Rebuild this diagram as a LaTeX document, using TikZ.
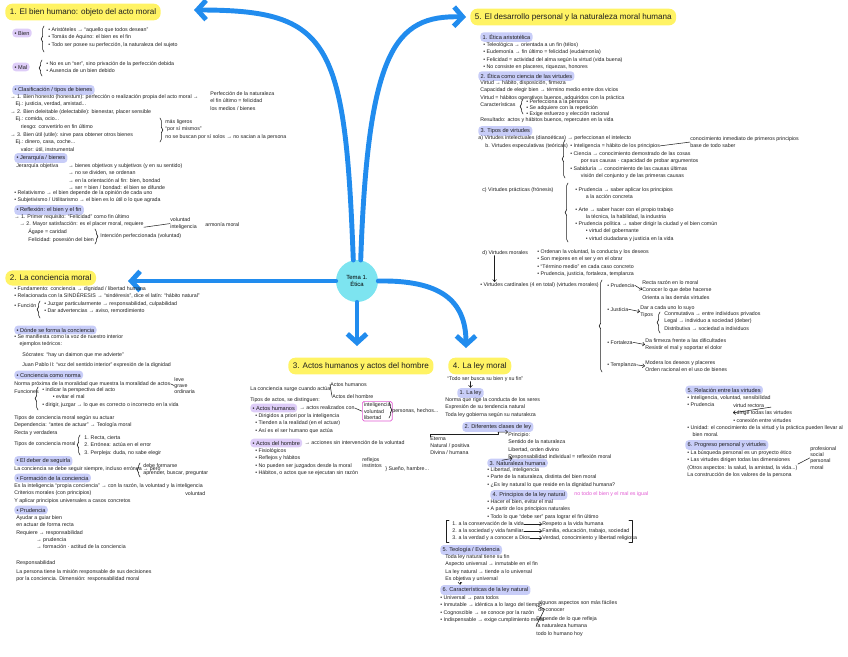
\documentclass[tikz,border=0pt]{standalone}
\usepackage{fontspec}
\setmainfont{Liberation Sans}
\usetikzlibrary{arrows.meta,positioning,decorations.pathreplacing}

\definecolor{mapblue}{RGB}{33,140,238}
\definecolor{bubble}{RGB}{125,228,240}
\definecolor{hlyel}{RGB}{255,243,100}
\definecolor{hlpur}{RGB}{222,205,248}
\definecolor{hlblu}{RGB}{200,205,248}
\definecolor{inkpink}{RGB}{225,90,210}
\definecolor{ink}{RGB}{30,30,30}

\tikzset{
  note/.style={font=\fontsize{3}{4.3}\selectfont,anchor=north west,align=left,inner sep=0pt,text=ink},
  headline/.style={fill=hlyel,font=\fontsize{4.6}{5.5}\selectfont,anchor=west,inner sep=2.6pt,rounded corners=4pt,text=ink},
  tagp/.style={fill=hlpur,font=\fontsize{3.2}{4}\selectfont,anchor=west,inner sep=1.3pt,rounded corners=2pt,text=ink},
  tagb/.style={fill=hlblu,font=\fontsize{3.2}{4}\selectfont,anchor=west,inner sep=1.3pt,rounded corners=2pt,text=ink},
  branch/.style={draw=mapblue,line width=2.8pt,line cap=round,line join=round,-{Straight Barb[length=5pt,width=11pt]}},
  pen/.style={draw=ink,line width=0.3pt,-{Straight Barb[length=1.2pt,width=2.2pt]}},
  fork/.style={draw=ink,line width=0.3pt},
  curly/.style={draw=ink,line width=0.35pt,decorate,decoration={brace,amplitude=1.6pt}}
}

\begin{document}
\begin{tikzpicture}[x=0.02cm,y=-0.02cm,>=Stealth,line join=round,line cap=round]
  \useasboundingbox (0,0) rectangle (848,656);

  \node[circle,fill=bubble,minimum size=0.84cm,inner sep=0pt,align=center,font=\fontsize{3.4}{4}\selectfont] (ctr) at (357,281) {Tema 1.\\Ética};

  \node[headline] (h1) at (5,12) {1. El bien humano: objeto del acto moral};
  \node[headline] (h2) at (5,278) {2. La conciencia moral};
  \node[headline] (h3) at (288,366) {3. Actos humanos y actos del hombre};
  \node[headline] (h4) at (448,366) {4. La ley moral};
  \node[headline] (h5) at (470,17) {5. El desarrollo personal y la naturaleza moral humana};

  \coordinate (tip1) at (194,10);
  \coordinate (tip2) at (466,17);
  \coordinate (tip3) at (128,281);
  \coordinate (tip4) at (357,346);
  \coordinate (tip5) at (466,348);
  \draw[branch] (ctr.100) .. controls (345,40) and (330,10) .. (tip1);
  \draw[branch] (ctr.80) .. controls (368,50) and (395,15) .. (tip2);
  \draw[branch] (ctr.west) -- (tip3);
  \draw[branch] (ctr.south) -- (tip4);
  \draw[branch] (ctr.east) .. controls (440,280) and (466,300) .. (tip5);

  \node[tagp] (bien) at (12,33) {• Bien};
  \draw[curly] (44,52) -- (44,26);
  \node[note] (bien1) at (48,27) {• Aristóteles → “aquello que todos desean”\\• Tomás de Aquino: el bien es el fin\\• Todo ser posee su perfección, la naturaleza del sujeto};
  \node[tagp] (mal) at (12,67) {• Mal};
  \draw[curly] (42,76) -- (42,60);
  \node[note] (mal1) at (46,61) {• No es un “ser”, sino privación de la perfección debida\\• Ausencia de un bien debido};
  \node[tagb] (clas) at (12,90) {• Clasificación / tipos de bienes};
  \node[note] (clas1) at (10,94) {→ 1. Bien honesto (honestum): perfección o realización propia del acto moral →\\\quad Ej.: justicia, verdad, amistad...\\→ 2. Bien deleitable (delectabile): bienestar, placer sensible\\\quad Ej.: comida, ocio...\\\qquad riesgo: convertirlo en fin último\\→ 3. Bien útil (utile): sirve para obtener otros bienes\\\quad Ej.: dinero, casa, coche...\\\qquad valor: útil, instrumental};
  \node[note] (clas2) at (210,91) {Perfección de la naturaleza\\el fin último = felicidad\\los medios / bienes};
  \draw[curly] (160,118) -- (160,142);
  \node[note] (clas3) at (165,119) {más ligeros\\“por sí mismos”\\no se buscan por sí solos → no sacian a la persona};
  \node[tagb] (jer) at (14,158) {• Jerarquía / bienes};
  \node[note] (jer1) at (16,163) {Jerarquía objetiva};
  \node[note] (jer2) at (68,163) {→ bienes objetivos y subjetivos (y en su sentido)\\→ no se dividen, se ordenan\\→ en la orientación al fin: bien, bondad\\→ ser = bien / bondad: el bien se difunde};
  \node[note] (rel) at (14,190) {• Relativismo → el bien depende de la opinión de cada uno\\• Subjetivismo / Utilitarismo → el bien es lo útil o lo que agrada};
  \node[tagb] (refl) at (14,210) {• Reflexión: el bien y el fin};
  \node[note] (refl1) at (14,214) {→ 1. Primer requisito: “Felicidad” como fin último\\\quad→ 2. Mayor satisfacción: es el placer moral, requiere};
  \node[note] (refl2) at (170,217) {voluntad\\inteligencia};
  \node[note] (refl3) at (205,222) {armonía moral};
  \draw[fork] (refl1.south east) -- (refl2.west);
  \node[note] (refl4) at (28,229) {Ágape = caridad\\Felicidad: posesión del bien};
  \draw[curly] (95,229) -- (95,244);
  \node[note] (refl5) at (100,233) {Intención perfeccionada (voluntad)};

  \node[note] (c1) at (14,286) {• Fundamento: conciencia → dignidad / libertad humana\\• Relacionada con la SINDÉRESIS → “sindéresis”, dice el latín: “hábito natural”};
  \node[note] (c2) at (14,303) {• Función};
  \draw[curly] (40,318) -- (40,301);
  \node[note] (c3) at (44,301) {• Juzgar particularmente → responsabilidad, culpabilidad\\• Dar advertencias → aviso, remordimiento};
  \node[tagb] (c4) at (14,330) {• Dónde se forma la conciencia};
  \node[note] (c5) at (14,334) {• Se manifiesta como la voz de nuestro interior\\\quad ejemplos teóricos:};
  \node[note] (c6) at (22,352) {Sócrates: “hay un daimon que me advierte”};
  \node[note] (c7) at (22,362) {Juan Pablo II: “voz del sentido interior” expresión de la dignidad};
  \node[tagb] (c8) at (14,375) {• Conciencia como norma};
  \node[note] (c9) at (14,381) {Norma próxima de la moralidad que muestra la moralidad de actos};
  \node[note,font=\fontsize{3}{3.5}\selectfont] (c10) at (174,377) {leve\\grave\\ordinaria};
  \draw[fork] (c9.east) -- (c10.west);
  \node[note] (c11) at (14,389) {Funciones};
  \draw[curly] (38,410) -- (38,387);
  \node[note] (c12) at (42,387) {• indicar la perspectiva del acto\\\qquad• evitar el mal\\• dirigir, juzgar → lo que es correcto o incorrecto en la vida};
  \node[note] (c13) at (14,415) {Tipos de conciencia moral según su actuar\\Dependencia: “antes de actuar” → Teología moral\\Recta y verdadera};
  \node[note] (c14) at (14,441) {Tipos de conciencia moral};
  \draw[curly] (80,455) -- (80,435);
  \node[note] (c15) at (84,435) {1. Recta, cierta\\2. Errónea: actúa en el error\\3. Perpleja: duda, no sabe elegir};
  \node[tagb] (c16) at (14,461) {• El deber de seguirla};
  \node[note] (c17) at (14,466) {La conciencia se debe seguir siempre, incluso errónea → pero};
  \draw[curly] (140,477) -- (140,463);
  \node[note] (c18) at (143,463) {debe formarse\\aprender, buscar, preguntar};
  \node[tagb] (c19) at (14,478) {• Formación de la conciencia};
  \node[note] (c20) at (14,483) {Es la inteligencia “propia conciencia” → con la razón, la voluntad y la inteligencia\\Criterios morales (con principios)\\Y aplicar principios universales a casos concretos};
  \node[note] (c21) at (185,491) {voluntad};
  \node[tagb] (c22) at (14,510) {• Prudencia};
  \node[note] (c23) at (16,515) {Ayudar a guiar bien\\en actuar de forma recta\\Requiere → responsabilidad};
  \node[note] (c24) at (36,537) {→ prudencia\\→ formación · actitud de la conciencia};
  \node[note] (c25) at (16,560) {Responsabilidad};
  \node[note] (c26) at (16,569) {La persona tiene la misión responsable de sus decisiones\\por la conciencia. Dimensión: responsabilidad moral};

  \node[note] (a1) at (250,386) {La conciencia surge cuando actúa};
  \node[note] (a2) at (330,382) {Actos humanos};
  \node[note] (a3) at (332,394) {Actos del hombre};
  \draw[fork] (a1.east) -- (a2.west);
  \draw[fork] (a1.east) -- (a3.west);
  \node[note] (a4) at (250,397) {Tipos de actos, se distinguen:};
  \node[tagp] (a5) at (250,408) {• Actos humanos};
  \node[note,right=1pt of a5] (a6) {→ actos realizados con};
  \node[note,draw=inkpink,inner sep=1pt,rounded corners=1pt,font=\fontsize{3}{3.5}\selectfont] (a7) at (362,401) {inteligencia\\voluntad\\libertad};
  \draw[fork] (a6.east) -- (a7.west);
  \draw[curly] (389,402) -- (389,418);
  \node[note] (a8) at (392,408) {personas, hechos...};
  \node[note] (a9) at (255,413) {• Dirigidos a priori por la inteligencia\\• Tienden a la realidad (en el actuar)\\• Así es el ser humano que actúa};
  \node[tagp] (a10) at (250,443) {• Actos del hombre};
  \node[note,right=1pt of a10] (a11) {→ acciones sin intervención de la voluntad};
  \node[note] (a12) at (255,448) {• Fisiológicos\\• Reflejos y hábitos\\• No pueden ser juzgados desde la moral\\• Hábitos, o actos que se ejecutan sin razón};
  \node[note,font=\fontsize{3}{3.5}\selectfont] (a13) at (362,457) {reflejos\\instintos};
  \node[note] (a14) at (385,466) {\} Sueño, hambre...};

  \node[note] (l1) at (447,376) {“Todo ser busca su bien y su fin”};
  \node[tagb] (l2) at (457,393) {1. La ley};
  \draw[pen] (l2.north |- l1.south) -- (l2.north);
  \node[note] (l3) at (445,397) {Norma que rige la conducta de los seres\\Expresión de su tendencia natural\\Toda ley gobierna según su naturaleza};
  \node[tagb] (l4) at (462,427) {2. Diferentes clases de ley};
  \node[note,font=\fontsize{3}{3.9}\selectfont] (l5) at (430,437) {Eterna\\Natural / positiva\\Divina / humana};
  \node[note] (l6) at (508,432) {Principio:\\Sentido de la naturaleza\\Libertad, orden divino\\Responsabilidad individual = reflexión moral};
  \draw[fork] (l5.north west) -- ++(0,-3) -| (l4.south);
  \draw[pen] (l4.south) -- (l6.north west);
  \node[tagb] (l7) at (487,463) {3. Naturaleza humana};
  \draw[pen] (l6.south west) ++(-6,0) -- ([xshift=-3pt]l7.north);
  \node[note] (l8) at (487,467) {• Libertad, inteligencia\\• Parte de la naturaleza, distinta del bien moral\\• ¿Es ley natural lo que reside en la dignidad humana?};
  \node[tagb] (l9) at (490,495) {4. Principios de la ley natural};
  \node[note,text=inkpink] (l9b) at (574,491) {no todo el bien y el mal es igual};
  \node[note] (l10) at (487,499) {• Hacer el bien, evitar el mal\\• A partir de los principios naturales\\• Todo lo que “debe ser” para lograr el fin último};
  \foreach \i/\y/\a/\b in {1/524/{1. a la conservación de la vida}/{Respeto a la vida humana},
                          2/531/{2. a la sociedad y vida familiar}/{Familia, educación, trabajo, sociedad},
                          3/538/{3. a la verdad y a conocer a Dios}/{Verdad, conocimiento y libertad religiosa}}{
    \node[note,anchor=west] (p\i) at (452,\y) {\a};
    \node[note,anchor=west] (q\i) at (542,\y) {\b};
    \draw[pen] (p\i.east) -- (q\i.west);
  }
  \draw[fork] (449,520) -- (446,520) -- (446,542) -- (449,542);
  \draw[fork] (629,520) -- (632,520) -- (632,542) -- (629,542);
  \node[tagb] (l13) at (440,550) {5. Teología / Evidencia};
  \node[note] (l14) at (445,554) {Toda ley natural tiene su fin\\Aspecto universal → inmutable en el fin\\La ley natural → tiende a lo universal\\Es objetiva y universal};
  \node[tagb] (l15) at (440,590) {6. Características de la ley natural};
  \draw[pen] (l14.south west) ++(15,0) -- (l15.north west -| 460,0);
  \node[note] (l16) at (440,595) {• Universal → para todos\\• Inmutable → idéntica a lo largo del tiempo\\• Cognoscible → se conoce por la razón\\• Indispensable → exige cumplimiento moral};
  \node[note] (l17) at (538,600) {algunos aspectos son más fáciles\\de conocer};
  \node[note] (l18) at (536,616) {Depende de lo que refleja\\la naturaleza humana\\todo lo humano hoy};
  \draw[fork] (l16.east) -- (l17.west);
  \draw[fork] (l16.east) -- (l18.west);

  \node[tagb] (e1) at (480,37) {1. Ética aristotélica};
  \node[note] (e2) at (483,42) {• Teleológica → orientada a un fin (télos)\\• Eudemonía → fin último = felicidad (eudaimonía)\\• Felicidad = actividad del alma según la virtud (vida buena)\\• No consiste en placeres, riquezas, honores};
  \node[tagb] (e3) at (478,76) {2. Ética como ciencia de las virtudes};
  \node[note] (e4) at (480,80) {Virtud → hábito, disposición, firmeza\\Capacidad de elegir bien → término medio entre dos vicios\\Virtud = hábitos operativos buenos, adquiridos con la práctica\\Características};
  \draw[curly] (523,114) -- (523,99);
  \node[note,font=\fontsize{3}{3.6}\selectfont] (e5) at (526,99) {• Perfecciona a la persona\\• Se adquiere con la repetición\\• Exige esfuerzo y elección racional};
  \node[note] (e6) at (480,117) {Resultado: actos y hábitos buenos, repercuten en la vida};
  \node[tagb] (e7) at (478,131) {3. Tipos de virtudes};
  \node[note] (e8) at (478,135) {a) Virtudes intelectuales (dianoéticas) → perfeccionan el intelecto};
  \node[note] (e9) at (485,143) {b. Virtudes especulativas (teóricas)};
  \draw[curly] (565,178) -- (565,140);
  \node[note] (e10) at (570,143) {• Inteligencia = hábito de los principios};
  \node[note] (e11) at (690,136) {conocimiento inmediato de primeros principios\\base de todo saber};
  \draw[fork] (e10.east) -- (e11.west);
  \node[note] (e12) at (570,151) {• Ciencia → conocimiento demostrado de las cosas\\\qquad por sus causas · capacidad de probar argumentos};
  \node[note] (e13) at (570,166) {• Sabiduría → conocimiento de las causas últimas\\\qquad visión del conjunto y de las primeras causas};
  \node[note] (e14) at (482,187) {c) Virtudes prácticas (frónesis)};
  \draw[curly] (568,242) -- (568,183);
  \node[note] (e15) at (575,187) {• Prudencia → saber aplicar los principios\\\qquad a la acción concreta};
  \node[note] (e16) at (575,207) {• Arte → saber hacer con el propio trabajo\\\qquad la técnica, la habilidad, la industria};
  \node[note] (e17) at (575,221) {• Prudencia política → saber dirigir la ciudad y el bien común\\\qquad • virtud del gobernante\\\qquad • virtud ciudadana y justicia en la vida};
  \node[note] (e18) at (482,250) {d) Virtudes morales};
  \node[note] (e19) at (537,249) {• Ordenan la voluntad, la conducta y los deseos\\• Son mejores en el ser y en el obrar\\• “Término medio” en cada caso concreto\\• Prudencia, justicia, fortaleza, templanza};
  \node[note] (e20) at (480,282) {• Virtudes cardinales (4 en total) (virtudes morales)};
  \draw[pen] ([xshift=-6pt]e18.south) -- ([xshift=-6pt]e18.south |- e20.north);
  \draw[curly] (602,372) -- (602,280);
  \node[note] (e21) at (607,283) {• Prudencia};
  \node[note] (e22) at (642,280) {Recta razón en lo moral\\Conocer lo que debe hacerse\\Orienta a las demás virtudes};
  \draw[pen] (e21.east) -- (e22.west);
  \node[note] (e23) at (607,307) {• Justicia};
  \node[note] (e24) at (640,305) {Dar a cada uno lo suyo\\Tipos};
  \draw[pen] (e23.east) -- (e24.west);
  \draw[curly] (660,333) -- (660,312);
  \node[note] (e25) at (664,311) {Conmutativa → entre individuos privados\\Legal → individuo a sociedad (deber)\\Distributiva → sociedad a individuos};
  \node[note] (e26) at (607,340) {• Fortaleza};
  \node[note] (e27) at (645,338) {Da firmeza frente a las dificultades\\Resistir el mal y soportar el dolor};
  \draw[pen] (e26.east) -- (e27.west);
  \node[note] (e28) at (607,362) {• Templanza};
  \node[note] (e29) at (645,360) {Modera los deseos y placeres\\Orden racional en el uso de bienes};
  \draw[pen] (e28.east) -- (e29.west);

  \node[tagb] (e30) at (685,390) {5. Relación entre las virtudes};
  \node[note] (e31) at (687,395) {• Inteligencia, voluntad, sensibilidad\\• Prudencia};
  \node[note] (e32) at (733,403) {virtud rectora\\• dirige todas las virtudes\\• conexión entre virtudes};
  \draw[pen] (e31.south east) -- (e32.west);
  \node[note] (e33) at (687,425) {• Unidad: el conocimiento de la virtud y la práctica pueden llevar al\\\quad bien moral.};
  \node[tagb] (e34) at (685,445) {6. Progreso personal y virtudes};
  \node[note] (e35) at (687,450) {• La búsqueda personal es un proyecto ético\\• Las virtudes dirigen todas las dimensiones\\(Otros aspectos: la salud, la amistad, la vida...)\\La construcción de los valores de la persona};
  \node[note,font=\fontsize{3}{3.6}\selectfont] (e36) at (810,446) {profesional\\social\\personal\\moral};
  \draw[fork] (e35.east) -- (e36.west);
\end{tikzpicture}
\end{document}
